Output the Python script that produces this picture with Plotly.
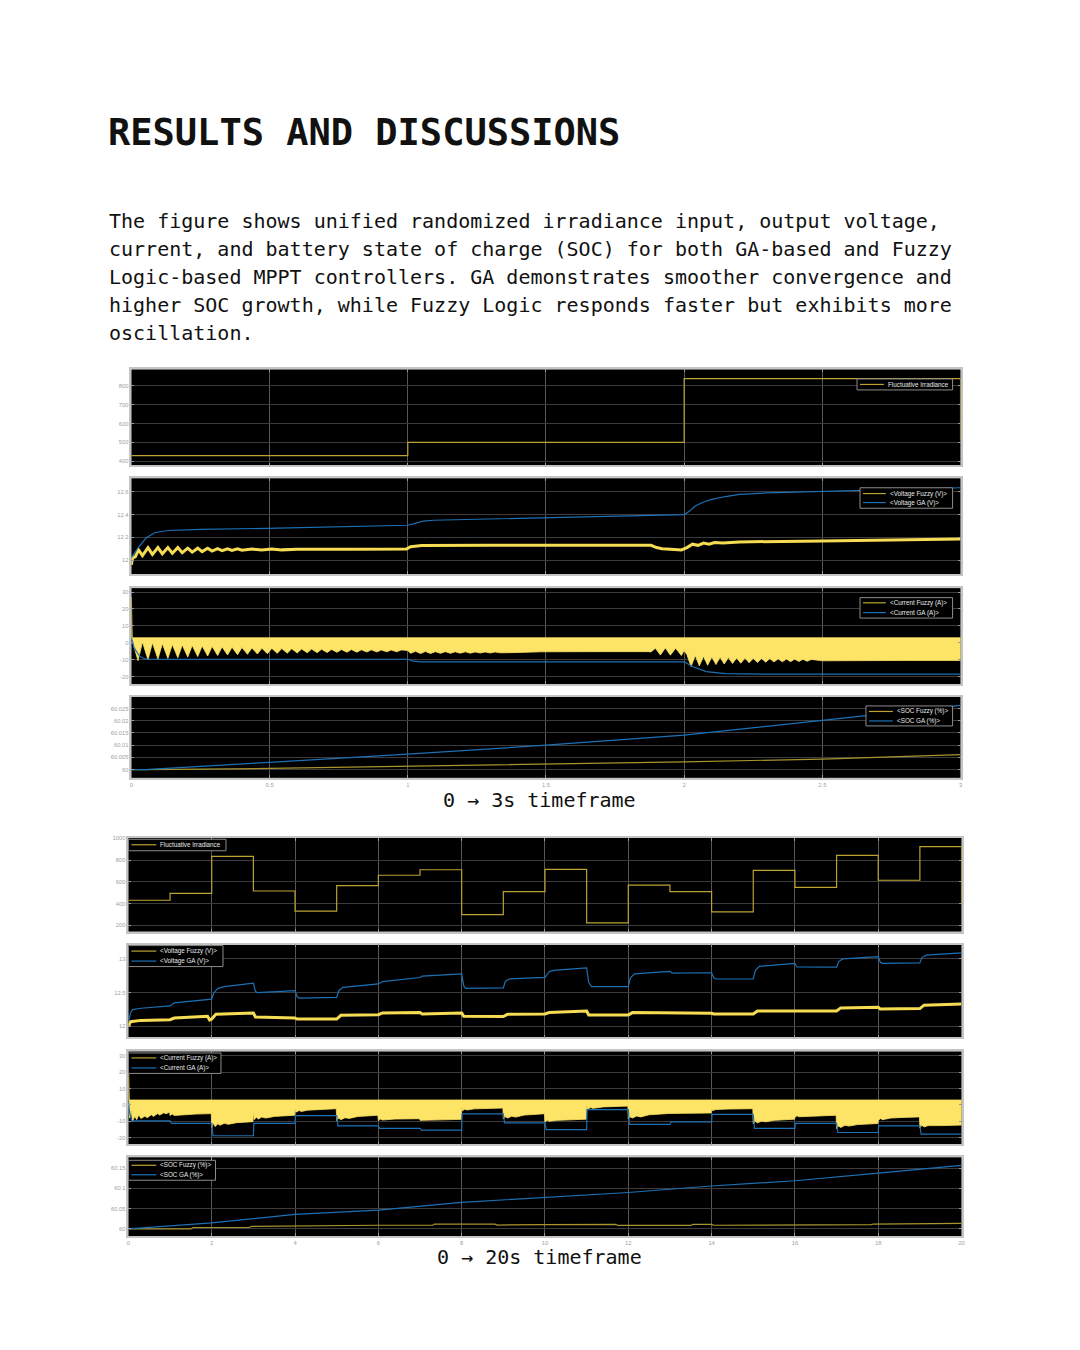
import plotly.graph_objects as go

# ======================= DATA =======================
# ---- 0 -> 3 s timeframe ----
TOP_XTICKS = [0, 0.5, 1, 1.5, 2, 2.5, 3]
TOP_XTICK_TEXT = ["0", "0.5", "1", "1.5", "2", "2.5", "3"]

TOP_T_IRR = [0, 1, 2, 3]
TOP_IRR = [430, 500, 837, 515]
TOP_IRR_TICKS = [400, 500, 600, 700, 800]

TOP_T_V_GA = [0, 0.024, 0.054, 0.084, 0.132, 0.252, 0.49, 0.972, 1.0, 1.03, 1.056, 1.092, 1.476,
              2.0, 2.02, 2.04, 2.07, 2.10, 2.15, 2.2, 2.3, 2.437, 2.7, 3.0]
TOP_V_GA = [12.02, 12.108, 12.196, 12.24, 12.26, 12.27, 12.279, 12.305, 12.306, 12.325, 12.343, 12.35, 12.372,
            12.40, 12.43, 12.475, 12.51, 12.533, 12.558, 12.577, 12.59, 12.60, 12.615, 12.635]
TOP_T_V_FUZZY = [0.000, 0.004, 0.014, 0.026, 0.040, 0.060, 0.076, 0.096, 0.112, 0.132, 0.148, 0.168,
                 0.184, 0.204, 0.220, 0.240, 0.256, 0.276, 0.292, 0.312, 0.328, 0.348, 0.364, 0.384,
                 0.400, 0.436, 0.472, 0.508, 0.544, 0.600, 0.800, 0.995, 1.010, 1.050, 1.300, 1.500,
                 1.880, 1.900, 1.920, 1.950, 1.990, 2.010, 2.030, 2.050, 2.070, 2.090, 2.110, 2.140,
                 2.200, 2.500, 2.800, 3.000]
TOP_V_FUZZY = [11.96, 12.02, 12.03, 12.09, 12.04, 12.11, 12.05, 12.11, 12.055, 12.11, 12.06, 12.11,
               12.065, 12.105, 12.07, 12.105, 12.075, 12.105, 12.08, 12.10, 12.083, 12.10, 12.085, 12.10,
               12.087, 12.098, 12.089, 12.097, 12.09, 12.095, 12.095, 12.098, 12.118, 12.128, 12.13, 12.13,
               12.13, 12.11, 12.10, 12.095, 12.09, 12.11, 12.14, 12.13, 12.15, 12.14, 12.155, 12.15,
               12.16, 12.168, 12.178, 12.185]
TOP_V_TICKS = [12, 12.2, 12.4, 12.6]

TOP_T_I_FUZZY_UP = [0, 0.003, 3.0]
TOP_I_FUZZY_UP = [27, 3, 3]
TOP_T_I_FUZZY_LO = [0.000, 0.024, 0.040, 0.060, 0.076, 0.096, 0.112, 0.132, 0.148, 0.168, 0.184, 0.204,
                    0.220, 0.240, 0.256, 0.276, 0.292, 0.312, 0.328, 0.348, 0.364, 0.384, 0.400, 0.420,
                    0.436, 0.456, 0.472, 0.492, 0.508, 0.528, 0.544, 0.564, 0.580, 0.600, 0.616, 0.636,
                    0.652, 0.672, 0.688, 0.708, 0.724, 0.744, 0.760, 0.780, 0.796, 0.816, 0.832, 0.852,
                    0.868, 0.888, 0.904, 0.924, 0.940, 0.960, 0.976, 1.000,
                    1.010, 1.028, 1.046, 1.064, 1.082, 1.100, 1.118, 1.136, 1.154, 1.172, 1.190, 1.208,
                    1.226, 1.244, 1.262, 1.280, 1.298, 1.316, 1.334, 1.400, 1.480, 1.600, 1.700, 1.870,
                    1.880, 1.896, 1.914, 1.932, 1.950, 1.969, 1.990, 2.000,
                    2.010, 2.025, 2.040, 2.055, 2.070, 2.085, 2.100, 2.115, 2.130, 2.145, 2.160, 2.175,
                    2.190, 2.205, 2.220, 2.235, 2.250, 2.265, 2.280, 2.295, 2.310, 2.325, 2.340, 2.355,
                    2.370, 2.385, 2.400, 2.415, 2.430, 2.445, 2.460, 2.500, 2.600, 2.800, 3.000]
TOP_I_FUZZY_LO = [3, -10.5, 0.5, -10, 0, -9.6, -0.5, -9.2, -1, -8.8, -1.3, -8.4,
                  -1.6, -8.1, -1.9, -7.8, -2.1, -7.5, -2.4, -7.2, -2.6, -7.0, -2.8, -6.8,
                  -3.0, -6.6, -3.2, -6.4, -3.3, -6.2, -3.4, -6.1, -3.5, -6.0, -3.6, -5.9,
                  -3.7, -5.8, -3.8, -5.7, -3.9, -5.6, -4.0, -5.5, -4.0, -5.5, -4.1, -5.4,
                  -4.1, -5.4, -4.2, -5.3, -4.2, -5.3, -4.2, -4.5,
                  -6.2, -5.0, -6.3, -5.1, -6.3, -5.2, -6.2, -5.2, -6.2, -5.3, -6.1, -5.3,
                  -6.1, -5.4, -6.0, -5.4, -6.0, -5.4, -5.9, -5.7, -5.3, -5.2, -5.2, -5.2,
                  -5.4, -3.2, -7.2, -3.0, -7.3, -3.2, -7.5, -4.5,
                  -7.0, -14.0, -7.5, -13.6, -8.0, -13.2, -8.3, -12.8, -8.5, -12.5, -8.7, -12.2,
                  -8.9, -12.0, -9.0, -11.8, -9.1, -11.6, -9.2, -11.4, -9.3, -11.3, -9.4, -11.2,
                  -9.5, -11.1, -9.6, -11.0, -9.7, -10.9, -9.8, -10.6, -10.5, -10.4, -10.4]
TOP_T_I_GA = [0, 0.01, 0.03, 0.05, 0.065, 1.0, 1.02, 1.05, 2.0, 2.03, 2.08, 2.15, 2.3, 3.0]
TOP_I_GA = [3, -3, -8, -9.5, -9.7, -9.7, -10.8, -11.2, -11.2, -14, -17, -18.2, -18.5, -18.5]
TOP_I_TICKS = [-20, -10, 0, 10, 20, 30]

TOP_T_SOC = [0, 0.05, 0.5, 1.0, 1.5, 2.0, 2.5, 3.0]
TOP_SOC_GA = [60.0, 60.0, 60.003, 60.0063, 60.010, 60.0141, 60.0201, 60.0263]
TOP_SOC_FUZZY = [60.0, 60.0, 60.0005, 60.0013, 60.0023, 60.0032, 60.0043, 60.0061]
TOP_SOC_TICKS = [60, 60.005, 60.01, 60.015, 60.02, 60.025]
TOP_SOC_TICK_TEXT = ["60", "60.005", "60.01", "60.015", "60.02", "60.025"]

# ---- 0 -> 20 s timeframe ----
BOT_XTICKS = [0, 2, 4, 6, 8, 10, 12, 14, 16, 18, 20]

BOT_T_IRR = [0, 1, 2, 3, 4, 5, 6, 7, 8, 9, 10, 11, 12, 13, 14, 15, 16, 17, 18, 19, 20]
BOT_IRR = [430, 494, 834, 515, 329, 564, 660, 711, 297, 509, 714, 221, 570, 509, 322, 706, 549, 844, 614, 923, 410]
BOT_IRR_TICKS = [200, 400, 600, 800, 1000]

BOT_T_V_GA = [0, 0.05, 0.1, 0.3, 1.0, 1.1, 2.0, 2.05, 2.15, 2.3, 3.0, 3.05, 3.1, 4.0, 4.05, 4.1, 5.0, 5.05,
              5.15, 5.3, 6.0, 6.1, 7.0, 7.05, 8.0, 8.05, 8.1, 9.0, 9.05, 9.15, 10.0, 10.1, 10.2, 11.0,
              11.05, 11.12, 12.0, 12.05, 12.15, 13.0, 13.05, 14.0, 14.05, 14.1, 15.0, 15.05, 15.15, 16.0,
              16.05, 17.0, 17.05, 17.15, 18.0, 18.05, 18.1, 19.0, 19.05, 19.15, 20.0]
BOT_V_GA = [12.06, 12.2, 12.25, 12.27, 12.305, 12.35, 12.405, 12.5, 12.565, 12.59, 12.64, 12.52, 12.5, 12.53,
            12.44, 12.42, 12.43, 12.53, 12.58, 12.59, 12.63, 12.665, 12.725, 12.745, 12.78, 12.6, 12.565,
            12.57, 12.67, 12.705, 12.727, 12.81, 12.83, 12.866, 12.65, 12.59, 12.59, 12.72, 12.78, 12.816,
            12.79, 12.795, 12.72, 12.703, 12.705, 12.83, 12.89, 12.935, 12.88, 12.878, 12.96, 13.0, 13.034,
            12.95, 12.935, 12.94, 13.02, 13.055, 13.089]
BOT_T_V_FUZZY = [0, 0.05, 0.3, 1.0, 1.1, 1.9, 1.95, 2.0, 2.1, 3.0, 3.05, 4.0, 4.05, 5.0, 5.1, 6.0, 6.1, 7.0,
                 7.05, 8.0, 8.05, 9.0, 9.1, 10.0, 10.1, 11.0, 11.05, 12.0, 12.1, 13.0, 13.05, 14.0, 14.05,
                 15.0, 15.1, 16.0, 16.05, 17.0, 17.1, 18.0, 18.05, 19.0, 19.1, 20.0]
BOT_V_FUZZY = [12.0, 12.07, 12.09, 12.1, 12.125, 12.15, 12.095, 12.11, 12.18, 12.2, 12.14, 12.125, 12.11,
               12.11, 12.165, 12.175, 12.2, 12.205, 12.185, 12.2, 12.15, 12.148, 12.18, 12.185, 12.205,
               12.228, 12.17, 12.168, 12.205, 12.205, 12.198, 12.195, 12.184, 12.186, 12.228, 12.235,
               12.228, 12.23, 12.275, 12.285, 12.257, 12.265, 12.315, 12.332]
BOT_V_TICKS = [12, 12.5, 13]

BOT_T_I_FUZZY_UP = [0, 0.02, 20.0]
BOT_I_FUZZY_UP = [27, 3, 3]
BOT_T_I_FUZZY_LO = [0.0, 0.03, 0.06, 0.1, 0.15, 0.2, 0.25, 0.3, 0.4, 0.45, 0.55, 0.6, 0.7, 0.75, 0.85, 0.9, 0.99,
                    1.0, 1.05, 1.1, 1.3, 1.6, 1.99,
                    2.0, 2.04, 2.08, 2.15, 2.2, 2.3, 2.4, 2.6, 2.99,
                    3.0, 3.02, 3.07, 3.12, 3.2, 3.3, 3.5, 3.99,
                    4.0, 4.02, 4.1, 4.15, 4.3, 4.6, 4.99,
                    5.0, 5.05, 5.1, 5.2, 5.3, 5.5, 5.99,
                    6.0, 6.05, 6.1, 6.4, 6.99,
                    7.0, 7.3, 7.99,
                    8.0, 8.02, 8.08, 8.12, 8.3, 8.6, 8.99,
                    9.0, 9.05, 9.1, 9.2, 9.3, 9.5, 9.99,
                    10.0, 10.05, 10.1, 10.3, 10.6, 10.99,
                    11.0, 11.02, 11.1, 11.15, 11.4, 11.99,
                    12.0, 12.05, 12.1, 12.2, 12.3, 12.5, 12.99,
                    13.0, 13.5, 13.99,
                    14.0, 14.02, 14.1, 14.4, 14.99,
                    15.0, 15.05, 15.1, 15.2, 15.3, 15.5, 15.99,
                    16.0, 16.05, 16.1, 16.4, 16.99,
                    17.0, 17.05, 17.1, 17.2, 17.3, 17.5, 17.99,
                    18.0, 18.05, 18.1, 18.3, 18.6, 18.99,
                    19.0, 19.05, 19.1, 19.2, 19.5, 20.0]
BOT_I_FUZZY_LO = [3, -8, -3, -10, -7, -9, -6, -8.3, -6.8, -7.8, -6, -7, -5.3, -6.2, -4.8, -5.4, -4.4,
                  -6.5, -5.5, -6.4, -6.0, -5.6, -5.3,
                  -14.0, -11, -13.2, -11.5, -12.4, -11.2, -11.8, -10.8, -10.2,
                  -4, -9.0, -7.5, -8.6, -7.4, -8.0, -7.0, -6.3,
                  -2, -4.4, -3.4, -4.0, -3.2, -2.6, -2.3,
                  -9.6, -8, -9.0, -7.8, -8.2, -7.1, -6.3,
                  -9.6, -8.6, -9.2, -8.6, -8.4,
                  -9.4, -9.0, -8.8,
                  -0.5, -3.6, -2.5, -3.1, -2.4, -2.1, -1.9,
                  -8.6, -7.2, -8.0, -6.9, -7.4, -6.2, -5.4,
                  -10.5, -9.3, -10, -9.4, -9.0, -8.7,
                  0, -2.5, -1.6, -2.1, -1.2, -0.7,
                  -8.6, -7.3, -8.0, -6.8, -7.3, -6.0, -5.2,
                  -5.4, -5.0, -4.9,
                  -1.5, -3.5, -2.8, -2.5, -2.3,
                  -11.6, -10, -10.9, -9.9, -10.3, -9.4, -8.7,
                  -7.6, -6.6, -7.2, -6.6, -6.3,
                  -14.6, -12.8, -13.8, -12.4, -12.9, -12.0, -11.3,
                  -9.6, -8.2, -9.0, -8.0, -7.6, -7.3,
                  -14.0, -12.4, -13.4, -12.6, -12.6, -12.3]
BOT_T_I_GA = [0, 0.03, 0.08, 1.0, 1.03, 2.0, 2.03, 3.0, 3.01, 4.0, 4.01, 5.0, 5.03, 6.0, 6.03, 7.0, 7.03,
              8.0, 8.01, 9.0, 9.03, 10.0, 10.03, 11.0, 11.01, 12.0, 12.03, 13.0, 13.03, 14.0, 14.01, 15.0,
              15.03, 16.0, 16.01, 17.0, 17.03, 18.0, 18.01, 19.0, 19.03, 20.0]
BOT_I_GA = [3, -5, -9.7, -9.7, -11.3, -11.3, -18.8, -18.8, -11.3, -11.3, -6.5, -6.5, -12.8, -12.8, -14.3,
            -14.3, -15.4, -15.4, -5.4, -5.4, -10.9, -10.9, -15.0, -15.0, -2.9, -2.9, -11.9, -11.9, -10.3,
            -10.3, -5.7, -5.7, -14.3, -14.3, -11.3, -11.3, -16.8, -16.8, -12.8, -12.8, -17.8, -17.8]
BOT_I_TICKS = [-20, -10, 0, 10, 20, 30]

BOT_T_SOC_GA = [0, 2, 4, 6, 8, 10, 12, 14, 16, 18, 20]
BOT_SOC_GA = [60.0, 60.015, 60.0358, 60.0465, 60.0656, 60.078, 60.090, 60.106, 60.119, 60.138, 60.157]
BOT_T_SOC_FUZZY = [0, 1.5, 1.55, 2.9, 2.95, 4.0, 6.0, 7.3, 7.35, 8.8, 8.85, 10.0, 11.7, 11.75, 13.5, 13.55,
                   14.0, 14.05, 15.84, 15.89, 17.83, 17.88, 19.54, 19.59, 20.0]
BOT_SOC_FUZZY = [60.0, 60.0, 60.0035, 60.0035, 60.006, 60.0075, 60.009, 60.009, 60.0117, 60.0117, 60.0095,
                 60.0105, 60.011, 60.0085, 60.0085, 60.011, 60.011, 60.009, 60.009, 60.0105, 60.0105,
                 60.012, 60.012, 60.0138, 60.0138]
BOT_SOC_TICKS = [60, 60.05, 60.1, 60.15]
BOT_SOC_TICK_TEXT = ["60", "60.05", "60.1", "60.15"]

TITLE = "RESULTS AND DISCUSSIONS"
PARAGRAPH = [
    "The figure shows unified randomized irradiance input, output voltage,",
    "current, and battery state of charge (SOC) for both GA-based and Fuzzy",
    "Logic-based MPPT controllers. GA demonstrates smoother convergence and",
    "higher SOC growth, while Fuzzy Logic responds faster but exhibits more",
    "oscillation.",
]
CAPTION_TOP = "0 → 3s timeframe"
CAPTION_BOT = "0 → 20s timeframe"

NAME_IRR = "Fluctuative Irradiance"
NAMES_V = ["<Voltage Fuzzy (V)>", "<Voltage GA (V)>"]
NAMES_I = ["<Current Fuzzy (A)>", "<Current GA (A)>"]
NAMES_SOC_TOP = ["<SOC Fuzzy (%)>", "<SOC GA (%)>"]
NAMES_SOC_BOT = ["<SOC Fuzzy (%)>", "<SOC GA (%)>"]

# ======================= STYLE / LAYOUT =======================
W, H = 1080, 1350
GOLD = "#bba232"
SOCGOLD = "#a8942e"
YEL = "#f6dc52"
BAND = "#fde366"
BLUE = "#1c70b4"
TICKC = "#a0a0a0"
MONO = "DejaVu Sans Mono"
SANS = "Liberation Sans"


def py(y):
    return 1 - y / H


def fmt(v):
    return "%g" % v


PANELS = [
    dict(x=(130, 963), y=(368, 464), yr=[379, 886], yt=TOP_IRR_TICKS, ytt=None, xr=[0, 3], xt=TOP_XTICKS, xtt=TOP_XTICK_TEXT, lab=False),
    dict(x=(130, 963), y=(477, 573), yr=[11.877, 12.718], yt=TOP_V_TICKS, ytt=None, xr=[0, 3], xt=TOP_XTICKS, xtt=TOP_XTICK_TEXT, lab=False),
    dict(x=(130, 963), y=(587, 683), yr=[-24.3, 32.3], yt=TOP_I_TICKS, ytt=None, xr=[0, 3], xt=TOP_XTICKS, xtt=TOP_XTICK_TEXT, lab=False),
    dict(x=(130, 963), y=(696, 777), yr=[59.99664, 60.0297], yt=TOP_SOC_TICKS, ytt=TOP_SOC_TICK_TEXT, xr=[0, 3], xt=TOP_XTICKS, xtt=TOP_XTICK_TEXT, lab=True),
    dict(x=(127, 964), y=(837, 931), yr=[141, 1005.5], yt=BOT_IRR_TICKS, ytt=None, xr=[0, 20], xt=BOT_XTICKS, xtt=None, lab=False),
    dict(x=(127, 964), y=(944, 1037), yr=[11.837, 13.212], yt=BOT_V_TICKS, ytt=None, xr=[0, 20], xt=BOT_XTICKS, xtt=None, lab=False),
    dict(x=(127, 964), y=(1051, 1144), yr=[-24.0, 32.6], yt=BOT_I_TICKS, ytt=None, xr=[0, 20], xt=BOT_XTICKS, xtt=None, lab=False),
    dict(x=(127, 964), y=(1157, 1236), yr=[59.982, 60.177], yt=BOT_SOC_TICKS, ytt=BOT_SOC_TICK_TEXT, xr=[0, 20], xt=BOT_XTICKS, xtt=None, lab=True),
]

layout = dict(
    width=W, height=H, autosize=False,
    margin=dict(l=0, r=0, t=0, b=0),
    paper_bgcolor="white", plot_bgcolor="black",
    showlegend=False,
    font=dict(family=SANS, color=TICKC, size=6),
)

for i, p in enumerate(PANELS, start=1):
    sfx = "" if i == 1 else str(i)
    ytt = p["ytt"] if p["ytt"] is not None else [fmt(v) for v in p["yt"]]
    xtt = p["xtt"] if p["xtt"] is not None else [fmt(v) for v in p["xt"]]
    layout["xaxis" + sfx] = dict(
        domain=[p["x"][0] / W, p["x"][1] / W], anchor="y" + sfx, range=p["xr"],
        tickvals=p["xt"], ticktext=xtt, showticklabels=p["lab"],
        tickfont=dict(size=5.8, color=TICKC, family=SANS),
        ticks="inside", ticklen=3, tickcolor="#9a9a9a",
        showgrid=True, gridcolor="#585858", gridwidth=1, zeroline=False,
        showline=True, mirror="ticks", linecolor="#c4c4c4", linewidth=1.5,
        fixedrange=True,
    )
    layout["yaxis" + sfx] = dict(
        domain=[py(p["y"][1]), py(p["y"][0])], anchor="x" + sfx, range=p["yr"],
        tickvals=p["yt"], ticktext=ytt, showticklabels=True,
        tickfont=dict(size=5.8, color=TICKC, family=SANS),
        ticks="inside", ticklen=3, tickcolor="#9a9a9a",
        showgrid=True, gridcolor="#3c3c3c", gridwidth=1, zeroline=False,
        showline=True, mirror="ticks", linecolor="#c4c4c4", linewidth=1.5,
        fixedrange=True,
    )

fig = go.Figure()


def add(i, x, y, color, width=1.0, name=None, shape="linear"):
    sfx = "" if i == 1 else str(i)
    fig.add_trace(go.Scatter(
        x=x, y=y, mode="lines", name=name, showlegend=False,
        xaxis="x" + sfx, yaxis="y" + sfx,
        line=dict(color=color, width=width, shape=shape)))


def add_band(i, tu, vu, tl, vl, name):
    sfx = "" if i == 1 else str(i)
    fig.add_trace(go.Scatter(
        x=list(tu) + list(tl)[::-1], y=list(vu) + list(vl)[::-1],
        mode="lines", name=name, showlegend=False, fill="toself",
        fillcolor=BAND, line=dict(color=BAND, width=0.8),
        xaxis="x" + sfx, yaxis="y" + sfx))


# ---- top group ----
add(1, TOP_T_IRR, TOP_IRR, GOLD, 1.2, NAME_IRR, shape="hv")
add(2, TOP_T_V_FUZZY, TOP_V_FUZZY, YEL, 3.0, NAMES_V[0])
add(2, TOP_T_V_GA, TOP_V_GA, BLUE, 1.2, NAMES_V[1])
add_band(3, TOP_T_I_FUZZY_UP, TOP_I_FUZZY_UP, TOP_T_I_FUZZY_LO, TOP_I_FUZZY_LO, NAMES_I[0])
add(3, TOP_T_I_GA, TOP_I_GA, BLUE, 1.2, NAMES_I[1])
add(4, TOP_T_SOC, TOP_SOC_FUZZY, SOCGOLD, 1.2, NAMES_SOC_TOP[0])
add(4, TOP_T_SOC, TOP_SOC_GA, BLUE, 1.2, NAMES_SOC_TOP[1])

# ---- bottom group ----
add(5, BOT_T_IRR, BOT_IRR, GOLD, 1.2, NAME_IRR, shape="hv")
add(6, BOT_T_V_FUZZY, BOT_V_FUZZY, YEL, 3.0, NAMES_V[0])
add(6, BOT_T_V_GA, BOT_V_GA, BLUE, 1.2, NAMES_V[1])
add_band(7, BOT_T_I_FUZZY_UP, BOT_I_FUZZY_UP, BOT_T_I_FUZZY_LO, BOT_I_FUZZY_LO, NAMES_I[0])
add(7, BOT_T_I_GA, BOT_I_GA, BLUE, 1.2, NAMES_I[1])
add(8, BOT_T_SOC_FUZZY, BOT_SOC_FUZZY, SOCGOLD, 1.2, NAMES_SOC_BOT[0])
add(8, BOT_T_SOC_GA, BOT_SOC_GA, BLUE, 1.2, NAMES_SOC_BOT[1])

# ---- scope-style legend boxes (drawn in pixel space) ----
shapes = []
annotations = []


def legend_box(x0, x1, y0, y1, items, lx0, lx1, tx, ys):
    shapes.append(dict(type="rect", xref="paper", yref="paper", layer="above",
                       x0=x0 / W, x1=x1 / W, y0=py(y1), y1=py(y0),
                       fillcolor="black", line=dict(color="#8c8c8c", width=1)))
    for (label, color), yy in zip(items, ys):
        shapes.append(dict(type="line", xref="paper", yref="paper", layer="above",
                           x0=lx0 / W, x1=lx1 / W, y0=py(yy), y1=py(yy),
                           line=dict(color=color, width=1.2)))
        annotations.append(dict(text=label.replace("<", "&lt;").replace(">", "&gt;"),
                                xref="paper", yref="paper", x=tx / W, y=py(yy),
                                xanchor="left", yanchor="middle", showarrow=False,
                                font=dict(family=SANS, size=6.3, color="#e8e8e8")))


legend_box(859, 955, 377.5, 388.5, [(NAME_IRR, GOLD)], 862, 886, 888, [383])
legend_box(862, 955, 486.5, 507, [(NAMES_V[0], GOLD), (NAMES_V[1], BLUE)], 865, 888, 890, [492.3, 501.3])
legend_box(862, 955, 596.5, 617, [(NAMES_I[0], GOLD), (NAMES_I[1], BLUE)], 865, 888, 890, [601.7, 611.5])
legend_box(868, 955, 705, 725, [(NAMES_SOC_TOP[0], GOLD), (NAMES_SOC_TOP[1], BLUE)], 871, 895, 897, [710.5, 720])

legend_box(127, 225, 838.5, 850, [(NAME_IRR, GOLD)], 130, 155, 157, [844])
legend_box(127, 222, 945, 966, [(NAMES_V[0], GOLD), (NAMES_V[1], BLUE)], 130, 155, 157, [950.5, 960.5])
legend_box(127, 220, 1052.5, 1073, [(NAMES_I[0], GOLD), (NAMES_I[1], BLUE)], 130, 155, 157, [1057.5, 1067.5])
legend_box(127, 214.5, 1160, 1180, [(NAMES_SOC_BOT[0], GOLD), (NAMES_SOC_BOT[1], BLUE)], 130, 155, 157, [1165, 1174.5])

# ---- page text ----
annotations.append(dict(text="<b>" + TITLE + "</b>", xref="paper", yref="paper",
                        x=104 / W, y=py(130.5), xanchor="left", yanchor="middle", showarrow=False,
                        font=dict(family=MONO, size=37, color="#111111")))
for k, line in enumerate(PARAGRAPH):
    annotations.append(dict(text=line, xref="paper", yref="paper",
                            x=105 / W, y=py(219.5 + 28 * k), xanchor="left", yanchor="middle",
                            showarrow=False, font=dict(family=MONO, size=20, color="#111111")))
annotations.append(dict(text=CAPTION_TOP, xref="paper", yref="paper", x=540 / W, y=py(799),
                        xanchor="center", yanchor="middle", showarrow=False,
                        font=dict(family=MONO, size=20, color="#111111")))
annotations.append(dict(text=CAPTION_BOT, xref="paper", yref="paper", x=540 / W, y=py(1257),
                        xanchor="center", yanchor="middle", showarrow=False,
                        font=dict(family=MONO, size=20, color="#111111")))

layout["shapes"] = shapes
layout["annotations"] = annotations
fig.update_layout(**layout)
fig.write_html("out.html")
